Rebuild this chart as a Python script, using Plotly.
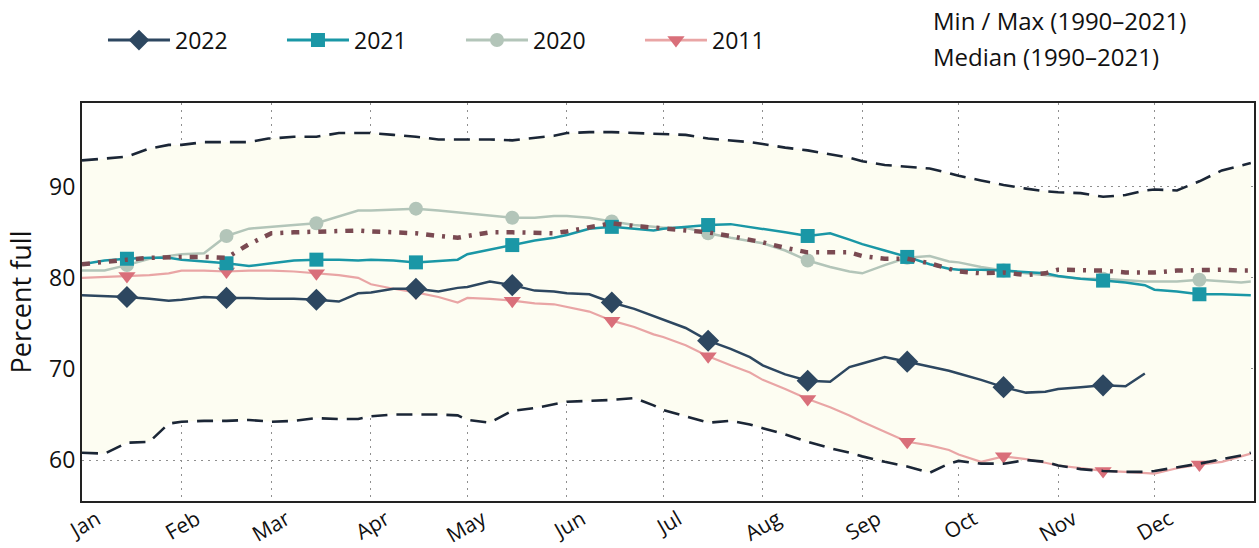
import plotly.graph_objects as go

# ---- data ----
months = list(range(1, 13))
days = [1, 8, 15, 22, 28]
dates = [f"2022-{m:02d}-{d:02d}" for m in months for d in days] + ["2022-12-31"]

y2022 = [78.1, 78.0, 77.9, 77.7, 77.5,
         77.6, 77.9, 77.8, 77.8, 77.7,
         77.7, 77.7, 77.6, 77.4, 78.3,
         78.4, 78.8, 78.8, 78.5, 78.9,
         79.0, 79.6, 79.2, 78.6, 78.5,
         78.3, 78.2, 77.3, 76.6, 75.8,
         75.4, 74.5, 73.1, 72.2, 71.3,
         70.4, 69.4, 68.7, 68.6, 70.2,
         70.6, 71.3, 70.8, 70.3, 69.8,
         69.5, 68.8, 68.0, 67.4, 67.5,
         67.8, 68.0, 68.2, 68.1, 69.5,
         None, None, None, None, None, None]

y2021 = [81.5, 81.9, 82.1, 82.2, 82.2,
         82.0, 81.8, 81.6, 81.3, 81.5,
         81.6, 81.9, 82.0, 82.0, 81.9,
         82.0, 81.9, 81.7, 81.9, 82.0,
         82.6, 83.1, 83.6, 84.1, 84.4,
         84.7, 85.4, 85.6, 85.4, 85.2,
         85.4, 85.6, 85.8, 85.9, 85.6,
         85.4, 85.0, 84.6, 84.9, 84.2,
         83.7, 83.0, 82.3, 81.5, 81.0,
         80.9, 80.9, 80.8, 80.6, 80.5,
         80.2, 79.9, 79.7, 79.5, 79.2,
         78.7, 78.5, 78.2, 78.2, 78.1, 78.1]

y2020 = [80.8, 80.8, 81.4, 82.1, 82.4,
         82.6, 82.7, 84.6, 85.4, 85.6,
         85.6, 85.8, 86.0, 86.8, 87.4,
         87.4, 87.5, 87.6, 87.4, 87.2,
         87.1, 86.8, 86.6, 86.6, 86.8,
         86.8, 86.6, 86.2, 85.8, 85.6,
         85.5, 85.5, 84.9, 84.4, 84.0,
         83.8, 83.0, 81.9, 81.2, 80.7,
         80.5, 81.4, 82.2, 82.4, 81.8,
         81.7, 81.2, 80.8, 80.5, 80.3,
         80.1, 79.9, 79.9, 79.7, 79.6,
         79.6, 79.6, 79.8, 79.6, 79.5, 79.6]

y2011 = [80.0, 80.1, 80.2, 80.3, 80.5,
         80.8, 80.8, 80.7, 80.8, 80.8,
         80.8, 80.7, 80.5, 80.3, 80.0,
         79.3, 78.8, 78.4, 77.9, 77.3,
         77.8, 77.7, 77.5, 77.2, 77.1,
         76.8, 76.3, 75.3, 74.6, 73.8,
         73.5, 72.6, 71.4, 70.4, 69.6,
         68.8, 67.8, 66.7, 65.8, 64.9,
         64.2, 63.1, 62.0, 61.6, 61.1,
         60.6, 59.8, 60.4, 60.1, 59.7,
         59.4, 59.1, 58.8, 58.7, 58.6,
         58.5, 59.1, 59.5, 59.8, 60.4, 60.7]

median = [81.5, 81.8, 82.0, 82.2, 82.3,
          82.3, 82.3, 82.2, 83.7, 84.8,
          84.9, 85.0, 85.1, 85.2, 85.2,
          85.1, 85.0, 84.9, 84.6, 84.4,
          84.6, 85.0, 85.0, 84.9, 84.9,
          85.1, 85.6, 86.0, 85.7, 85.5,
          85.4, 85.2, 85.0, 84.6, 84.2,
          83.9, 83.3, 82.8, 82.8, 82.8,
          82.4, 82.1, 82.1, 81.6, 81.0,
          80.7, 80.5, 80.6, 80.3, 80.5,
          80.9, 80.9, 80.8, 80.6, 80.6,
          80.6, 80.8, 80.9, 80.9, 80.8, 80.8]

vmax = [92.9, 93.1, 93.3, 94.2, 94.6,
        94.6, 94.9, 94.9, 94.9, 95.3,
        95.3, 95.5, 95.5, 95.9, 95.9,
        95.9, 95.7, 95.5, 95.2, 95.2,
        95.2, 95.2, 95.1, 95.4, 95.6,
        95.9, 96.0, 96.0, 95.9, 95.8,
        95.8, 95.7, 95.3, 95.1, 94.9,
        94.7, 94.3, 94.0, 93.6, 93.2,
        92.8, 92.4, 92.2, 92.0, 91.5,
        91.2, 90.7, 90.2, 89.8, 89.5,
        89.4, 89.3, 88.9, 89.1, 89.6,
        89.7, 89.6, 90.6, 91.8, 92.3, 92.6]

vmin = [60.8, 60.7, 61.9, 62.0, 64.0,
        64.2, 64.3, 64.3, 64.4, 64.2,
        64.2, 64.3, 64.6, 64.5, 64.5,
        64.8, 65.0, 65.0, 65.0, 64.9,
        64.4, 64.1, 65.4, 65.7, 66.1,
        66.4, 66.5, 66.6, 66.8, 66.0,
        65.5, 64.8, 64.1, 64.3, 63.9,
        63.5, 62.8, 62.0, 61.3, 60.8,
        60.4, 59.8, 59.3, 58.6, 59.6,
        59.9, 59.6, 59.6, 60.0, 59.8,
        59.4, 59.0, 58.8, 58.7, 58.7,
        58.8, 59.2, 59.6, 60.1, 60.5, 60.8]

series = [
    ("2011", y2011, "#e9a5a5", "#d96f7a", "triangle-down", 15, 2.2),
    ("2020", y2020, "#b3c5b9", "#b3c5b9", "circle", 14, 2.5),
    ("2021", y2021, "#1a97a6", "#1a97a6", "square", 14, 2.5),
    ("2022", y2022, "#2d4760", "#2d4760", "diamond", 17, 2.5),
]
legend_order = ["2022", "2021", "2020", "2011"]

FONT = "Open Sans"
MINMAX_COLOR = "#1b2636"
MEDIAN_COLOR = "#7a4a52"

fig = go.Figure()

# shaded envelope between min and max
fig.add_trace(go.Scatter(x=dates, y=vmax, mode="lines", line=dict(width=0),
                         hoverinfo="skip", showlegend=False))
fig.add_trace(go.Scatter(x=dates, y=vmin, mode="lines", line=dict(width=0),
                         fill="tonexty", fillcolor="#fdfdf2",
                         hoverinfo="skip", showlegend=False))

mark_idx = [i for i, d in enumerate(dates) if d.endswith("-15")]

for name, ys, lc, mc, sym, ms, lw in series:
    fig.add_trace(go.Scatter(x=dates, y=ys, mode="lines",
                             line=dict(color=lc, width=lw),
                             showlegend=False, legendgroup=name))
    mx = [dates[i] for i in mark_idx if ys[i] is not None]
    my = [ys[i] for i in mark_idx if ys[i] is not None]
    fig.add_trace(go.Scatter(x=mx, y=my, mode="markers",
                             marker=dict(color=mc, symbol=sym, size=ms,
                                         line=dict(width=0)),
                             showlegend=False, legendgroup=name))

# median
fig.add_trace(go.Scatter(x=dates, y=median, mode="lines",
                         line=dict(color=MEDIAN_COLOR, width=4.5,
                                   dash="8px,8px,3px,8px"),
                         showlegend=False))
# min / max
for arr in (vmax, vmin):
    fig.add_trace(go.Scatter(x=dates, y=arr, mode="lines",
                             line=dict(color=MINMAX_COLOR, width=2.6,
                                       dash="16px,9px"),
                             showlegend=False))

# legend entries
spec = {s[0]: s for s in series}
for name in legend_order:
    _, ys, lc, mc, sym, ms, lw = spec[name]
    fig.add_trace(go.Scatter(x=[None], y=[None], mode="lines+markers", name=name,
                             line=dict(color=lc, width=lw + 0.5),
                             marker=dict(color=mc, symbol=sym, size=ms),
                             legendgroup=name))

fig.add_annotation(text="Min / Max (1990–2021)", xref="paper", yref="paper",
                   x=0.7244, y=1.2085, xanchor="left", yanchor="middle",
                   showarrow=False, font=dict(family=FONT, size=24, color="#111"))
fig.add_annotation(text="Median (1990–2021)", xref="paper", yref="paper",
                   x=0.7244, y=1.1156, xanchor="left", yanchor="middle",
                   showarrow=False, font=dict(family=FONT, size=24, color="#111"))

fig.update_layout(
    width=1259, height=548,
    margin=dict(l=82, r=5, t=103, b=47),
    paper_bgcolor="white", plot_bgcolor="white",
    font=dict(family=FONT, size=23, color="#111"),
    showlegend=True,
    legend=dict(orientation="h", x=0.0179, y=1.158, xanchor="left", yanchor="middle",
                itemwidth=62, entrywidth=102, font=dict(family=FONT, size=23),
                bgcolor="rgba(0,0,0,0)", traceorder="normal"),
    xaxis=dict(type="date", range=["2022-01-01", "2023-01-01"],
               dtick="M1", tick0="2022-01-01", tickformat="%b",
               tickangle=-30, ticks="", ticklabelshift=15, ticklabelstandoff=-4,
               showgrid=True, gridcolor="#8f8f8f", gridwidth=1, griddash="2px,5px",
               showline=True, linecolor="#222", linewidth=2, mirror=True,
               zeroline=False, tickfont=dict(size=21), automargin=False),
    yaxis=dict(range=[55.5, 99.2], tickvals=[60, 70, 80, 90], ticks="",
               showgrid=True, gridcolor="#8f8f8f", gridwidth=1, griddash="2px,5px",
               showline=True, linecolor="#222", linewidth=2, mirror=True,
               zeroline=False, tickfont=dict(size=23), automargin=False,
               title=dict(text="Percent full", font=dict(size=27), standoff=10)),
)

fig.write_html("out.html", config={"displayModeBar": False},
               post_script="document.body.style.margin='0';document.body.style.overflow='hidden';")
